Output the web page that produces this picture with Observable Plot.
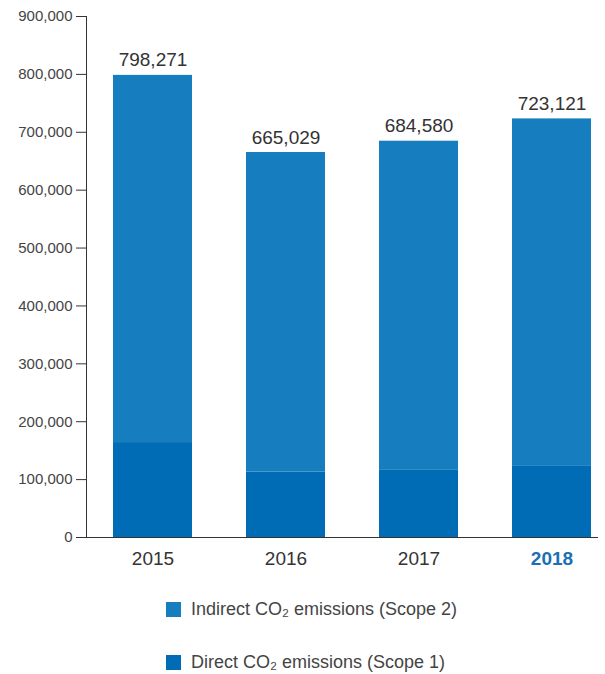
<!DOCTYPE html>
<html><head><meta charset="utf-8">
<script src="https://cdn.jsdelivr.net/npm/d3@7"></script>
<script src="https://cdn.jsdelivr.net/npm/@observablehq/plot@0.6"></script>
<style>
body{margin:0;background:#fff;font-family:"Liberation Sans",Arial,sans-serif;}
#legend{padding-top:19px;padding-left:166px;color:#444;font-size:18px;}
.row{display:flex;align-items:center;height:20px;}
.row + .row{margin-top:33px;}
.sw{width:15px;height:15px;margin-right:10px;}
</style></head>
<body><div id="chart"></div><div id="legend"></div>
<script>
const years = ["2015","2016","2017","2018"];
const totals = [798271, 665029, 684580, 723121];
const direct = [164000, 113000, 116000, 124000];
const seriesNames = ["Direct CO₂ emissions (Scope 1)", "Indirect CO₂ emissions (Scope 2)"];
const seriesColors = ["#006cb5", "#167dbe"];
const yTicks = [0,100000,200000,300000,400000,500000,600000,700000,800000,900000];

const rows = [];
years.forEach((y,i)=>{
  rows.push({year:y, series:seriesNames[0], value:direct[i]});
  rows.push({year:y, series:seriesNames[1], value:totals[i]-direct[i]});
});
const totalRows = years.map((y,i)=>({year:y, total:totals[i]}));

const plot = Plot.plot({
  width:605, height:580,
  marginTop:16, marginBottom:43, marginLeft:86, marginRight:7,
  style:{fontFamily:"Liberation Sans, Arial, sans-serif", background:"#fff"},
  x:{domain:years, paddingInner:0.407, paddingOuter:0, insetLeft:26, insetRight:7, label:null},
  y:{domain:[0,900000], label:null},
  color:{domain:seriesNames, range:seriesColors},
  marks:[
    Plot.barY(rows, {x:"year", y:"value", fill:"series", order:seriesNames}),
    Plot.text(totalRows, {x:"year", y:"total", text:d=>d3.format(",")(d.total), dy:-15, fontSize:19, fill:"#333"}),
    Plot.axisY({ticks:yTicks, tickFormat:d3.format(","), tickSize:10, tickPadding:4, fontSize:15, fill:"#444", stroke:"#333"}),
    Plot.frame({anchor:"left", stroke:"#333"}),
    Plot.ruleY([0], {stroke:"#333", insetLeft:-10}),
    Plot.axisX({tickSize:0, tickPadding:14, fontSize:19, fill:"#333"})
  ]
});
document.getElementById("chart").appendChild(plot);
d3.select(plot).selectAll("[aria-label='x-axis tick label'] text").each(function(){
  if (this.textContent === "2018") d3.select(this).attr("fill","#1b6fb6").attr("font-weight","bold");
});
const legend = document.getElementById("legend");
[1,0].forEach(i=>{
  const r = document.createElement("div"); r.className="row";
  r.innerHTML = `<div class="sw" style="background:${seriesColors[i]}"></div><span>${seriesNames[i]}</span>`;
  legend.appendChild(r);
});
</script></body></html>
